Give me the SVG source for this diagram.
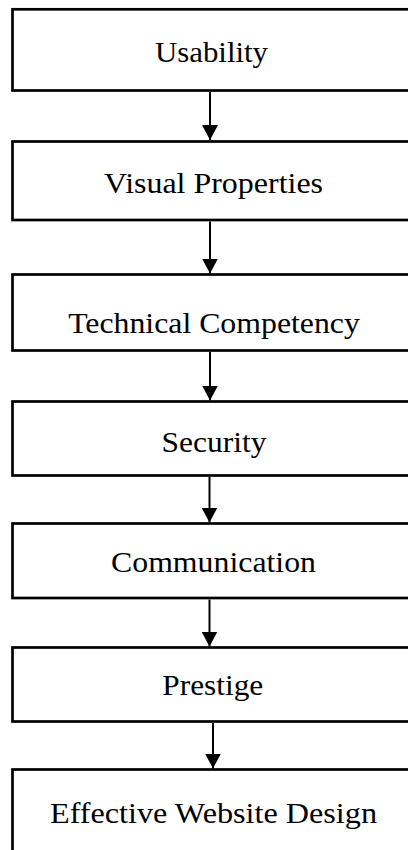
<svg xmlns="http://www.w3.org/2000/svg" width="408" height="850" viewBox="0 0 408 850">
  <style>
    .box { fill: #ffffff; stroke: #000000; stroke-width: 2.7; }
    .label { font-family: 'Liberation Serif', Tinos, 'Times New Roman', Times, serif; font-size: 29px; fill: #000000; text-anchor: middle; }
    .edge { stroke: #000000; stroke-width: 2; fill: none; marker-end: url(#head); }
  </style>
  <defs>
    <marker id="head" markerUnits="userSpaceOnUse" viewBox="0 0 15 16" refX="15" refY="8" markerWidth="15" markerHeight="16" orient="auto">
      <path d="M0,0 L15,8 L0,16 z" fill="#000000"/>
    </marker>
  </defs>
  <rect width="408" height="850" fill="#ffffff"/>

  <g id="usability">
    <rect class="box" x="12.5" y="9.3" width="420" height="81.2"/>
    <text class="label" x="211.5" y="62" textLength="113" lengthAdjust="spacingAndGlyphs">Usability</text>
  </g>
  <g id="visual-properties">
    <rect class="box" x="12.5" y="141.5" width="420" height="78.5"/>
    <text class="label" x="213.5" y="192.7" textLength="219" lengthAdjust="spacingAndGlyphs">Visual Properties</text>
  </g>
  <g id="technical-competency">
    <rect class="box" x="12.5" y="274.5" width="420" height="76"/>
    <text class="label" x="214" y="332.7" textLength="291.7" lengthAdjust="spacingAndGlyphs">Technical Competency</text>
  </g>
  <g id="security">
    <rect class="box" x="12.5" y="401.5" width="420" height="74"/>
    <text class="label" x="214" y="452.3" textLength="105" lengthAdjust="spacingAndGlyphs">Security</text>
  </g>
  <g id="communication">
    <rect class="box" x="12.5" y="523.5" width="420" height="74.5"/>
    <text class="label" x="213.5" y="571.7" textLength="205" lengthAdjust="spacingAndGlyphs">Communication</text>
  </g>
  <g id="prestige">
    <rect class="box" x="12.5" y="647.5" width="420" height="74"/>
    <text class="label" x="212.8" y="695" textLength="101" lengthAdjust="spacingAndGlyphs">Prestige</text>
  </g>
  <g id="effective-website-design">
    <rect class="box" x="12.5" y="769.5" width="420" height="100"/>
    <text class="label" x="213.5" y="823.3" textLength="327" lengthAdjust="spacingAndGlyphs">Effective Website Design</text>
  </g>

  <g id="connectors">
    <line class="edge" x1="210" y1="92" x2="210" y2="140"/>
    <line class="edge" x1="210" y1="221.5" x2="210" y2="273.5"/>
    <line class="edge" x1="210" y1="352" x2="210" y2="400.5"/>
    <line class="edge" x1="209.5" y1="477" x2="209.5" y2="522.5"/>
    <line class="edge" x1="209.5" y1="599.5" x2="209.5" y2="646.5"/>
    <line class="edge" x1="213" y1="723" x2="213" y2="768.5"/>
  </g>
</svg>
